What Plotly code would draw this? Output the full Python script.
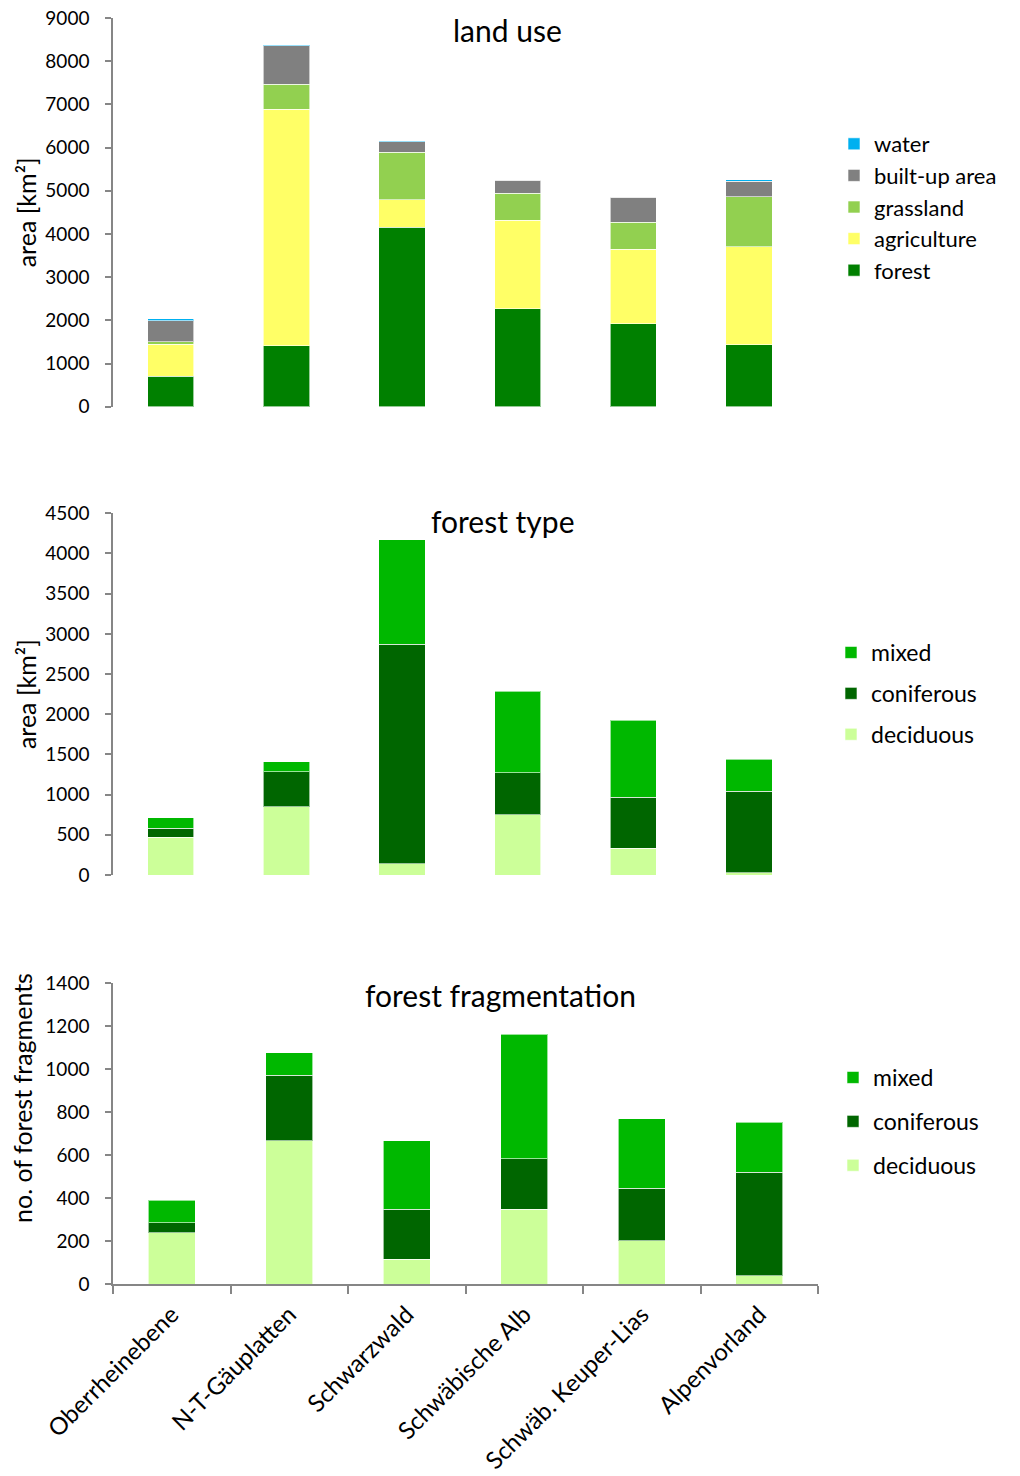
import plotly.graph_objects as go

regions = ["Oberrheinebene", "N-T-Gäuplatten", "Schwarzwald", "Schwäbische Alb",
           "Schwäb. Keuper-Lias", "Alpenvorland"]

# land use [km²]
lu_forest = [710, 1410, 4160, 2270, 1920, 1430]
lu_agriculture = [735, 5480, 630, 2045, 1720, 2270]
lu_grassland = [60, 580, 1100, 630, 630, 1165]
lu_builtup = [486, 890, 240, 295, 580, 350]
lu_water = [40, 25, 15, 10, 15, 40]

# forest type [km²]
ft_deciduous = [470, 850, 140, 750, 330, 25]
ft_coniferous = [110, 435, 2730, 520, 635, 1020]
ft_mixed = [130, 125, 1300, 1015, 960, 395]

# forest fragmentation [no. of fragments]
ff_deciduous = [240, 667, 116, 349, 203, 39]
ff_coniferous = [47, 306, 233, 235, 244, 482]
ff_mixed = [104, 104, 318, 579, 322, 232]

FONT = "Lato"
W, H = 1020, 1476
AXC = "#868686"


def px(x):
    return x / W


def py(y):
    return 1 - y / H


fig = go.Figure()


def add(name, y, color, xa, ya, leg, grp, rank):
    fig.add_trace(go.Bar(
        name=name, x=regions, y=y, xaxis=xa, yaxis=ya, legend=leg,
        legendgroup=grp, legendrank=rank,
        marker=dict(color=color, line=dict(color="rgba(255,255,255,0.6)", width=1)),
        width=0.4))


add("forest", lu_forest, "#008000", "x", "y", "legend", "a1", 5)
add("agriculture", lu_agriculture, "#FFFF66", "x", "y", "legend", "a2", 4)
add("grassland", lu_grassland, "#92D050", "x", "y", "legend", "a3", 3)
add("built-up area", lu_builtup, "#808080", "x", "y", "legend", "a4", 2)
add("water", lu_water, "#00B0F0", "x", "y", "legend", "a5", 1)

add("deciduous", ft_deciduous, "#CCFF99", "x2", "y2", "legend2", "b1", 3)
add("coniferous", ft_coniferous, "#006600", "x2", "y2", "legend2", "b2", 2)
add("mixed", ft_mixed, "#00B800", "x2", "y2", "legend2", "b3", 1)

add("deciduous", ff_deciduous, "#CCFF99", "x3", "y3", "legend3", "c1", 3)
add("coniferous", ff_coniferous, "#006600", "x3", "y3", "legend3", "c2", 2)
add("mixed", ff_mixed, "#00B800", "x3", "y3", "legend3", "c3", 1)

yaxis_common = dict(showline=True, linecolor=AXC, linewidth=1.5, ticks="outside",
                    ticklen=6, tickcolor=AXC, tickwidth=1.5, showgrid=False, zeroline=False,
                    automargin=False, ticklabeloverflow="allow",
                    tickfont=dict(family=FONT, size=19, color="black"), ticklabelstandoff=12)

xaxis_hidden = dict(showline=False, showticklabels=False, ticks="", showgrid=False,
                    zeroline=False, type="category", automargin=False)

TF = dict(family=FONT, size=25, color="black")
LF = dict(family=FONT, size=23, color="black")

fig.update_layout(
    width=W, height=H, margin=dict(l=0, r=0, t=0, b=0, autoexpand=False),
    paper_bgcolor="white", plot_bgcolor="white", barmode="stack",
    font=dict(family=FONT, color="black"),
    xaxis=dict(domain=[px(113), px(806.8)], anchor="y", **xaxis_hidden),
    xaxis2=dict(domain=[px(113), px(806.8)], anchor="y2", **xaxis_hidden),
    xaxis3=dict(domain=[px(113), px(818)], anchor="y3", type="category",
                showline=True, linecolor=AXC, linewidth=1.5, ticks="outside",
                tickson="boundaries", ticklen=8, tickcolor=AXC, tickwidth=1.5,
                showgrid=False, zeroline=False, tickangle=-45, automargin=False,
                ticklabeloverflow="allow", ticklabelstandoff=5,
                tickfont=dict(family=FONT, size=24, color="black")),
    yaxis=dict(domain=[py(406.7), py(18)], range=[0, 9000], dtick=1000, anchor="x",
               title=dict(text="area [km²]", font=TF, standoff=2),
               **yaxis_common),
    yaxis2=dict(domain=[py(875), py(513.3)], range=[0, 4500], dtick=500, anchor="x2",
                title=dict(text="area [km²]", font=TF, standoff=2),
                **yaxis_common),
    yaxis3=dict(domain=[py(1284.3), py(983.3)], range=[0, 1400], dtick=200, anchor="x3",
                **yaxis_common),
    legend=dict(x=px(834), y=py(123), xanchor="left", yanchor="top",
                traceorder="grouped", tracegroupgap=0,
                font=dict(family=FONT, size=22, color="black"), itemwidth=30),
    legend2=dict(x=px(831), y=py(631), xanchor="left", yanchor="top",
                 traceorder="grouped", tracegroupgap=8, font=LF, itemwidth=30),
    legend3=dict(x=px(833), y=py(1056), xanchor="left", yanchor="top",
                 traceorder="grouped", tracegroupgap=11, font=LF, itemwidth=30),
    annotations=[
        dict(text="land use", x=px(507), y=py(30), xref="paper", yref="paper",
             xanchor="center", yanchor="middle", showarrow=False,
             font=dict(family=FONT, size=30)),
        dict(text="forest type", x=px(502), y=py(521), xref="paper", yref="paper",
             xanchor="center", yanchor="middle", showarrow=False,
             font=dict(family=FONT, size=30)),
        dict(text="forest fragmentation", x=px(500), y=py(995), xref="paper", yref="paper",
             xanchor="center", yanchor="middle", showarrow=False,
             font=dict(family=FONT, size=30)),
        dict(text="no. of forest fragments", x=px(22), y=py(1098), xref="paper", yref="paper",
             xanchor="center", yanchor="middle", textangle=-90, showarrow=False,
             font=TF),
    ],
)

# remove the default 8px page margin so the figure fills the window exactly
fig.write_html("out.html", config={"displayModeBar": False},
               post_script="document.body.style.margin='0';document.body.style.overflow='hidden';")
